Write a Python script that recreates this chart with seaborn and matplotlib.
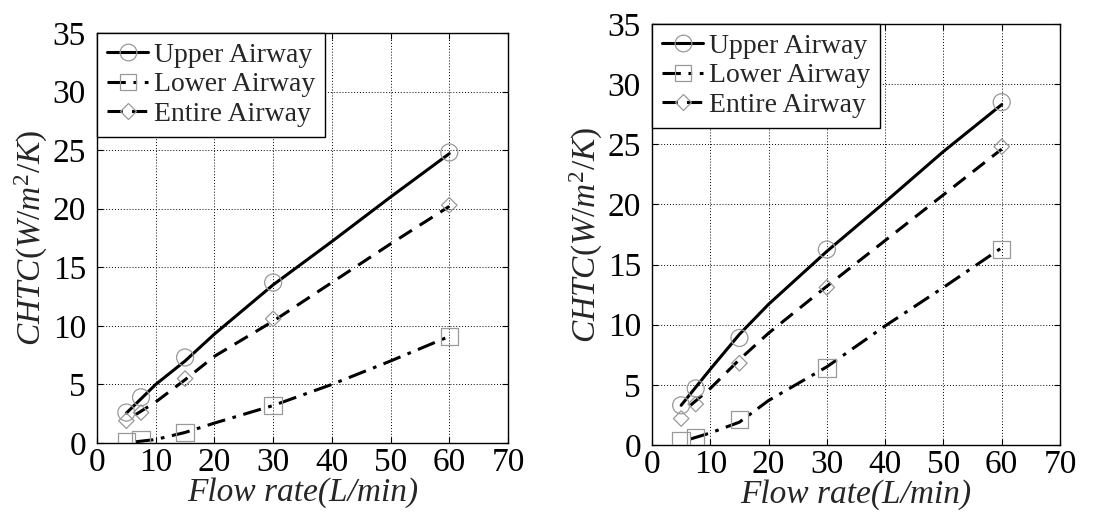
import numpy as np
import pandas as pd
import matplotlib
matplotlib.use("Agg")
import matplotlib.pyplot as plt
from matplotlib.lines import Line2D
import seaborn as sns

# ---------------- data ----------------
flow = [5, 7.5, 15, 30, 60]

# Left panel: measured points
left_upper_pts = [2.6, 3.9, 7.3, 13.7, 24.8]
left_lower_pts = [0.15, 0.3, 0.9, 3.2, 9.1]
left_entire_pts = [1.9, 2.6, 5.5, 10.6, 20.3]

# Left panel: fitted curves
left_upper_fx = [5, 10, 15, 20, 30, 40, 50, 60]
left_upper_fy = [2.55, 5.0, 7.0, 9.3, 13.5, 17.2, 21.0, 24.7]
left_entire_fx = [6.5, 10, 15, 20, 30, 40, 50, 60]
left_entire_fy = [2.4, 3.5, 5.4, 7.4, 10.4, 13.7, 17.0, 20.2]
left_lower_fx = [6.5, 10, 15, 20, 30, 40, 50, 60]
left_lower_fy = [0.1, 0.3, 0.9, 1.7, 3.2, 5.0, 7.0, 9.1]

# Right panel: measured points
right_upper_pts = [3.3, 4.7, 8.9, 16.25, 28.5]
right_lower_pts = [0.4, 0.65, 2.1, 6.4, 16.25]
right_entire_pts = [2.2, 3.4, 6.8, 13.1, 24.8]

# Right panel: fitted curves
right_upper_fx = [5, 10, 15, 20, 30, 40, 50, 60]
right_upper_fy = [3.3, 6.3, 9.2, 11.7, 16.1, 20.2, 24.4, 28.3]
right_entire_fx = [6.6, 10, 15, 20, 30, 40, 50, 60]
right_entire_fy = [3.3, 4.7, 7.1, 9.3, 13.2, 17.0, 20.8, 24.6]
right_lower_fx = [6.6, 10, 15, 20, 30, 40, 50, 60]
right_lower_fy = [0.5, 1.0, 1.9, 3.7, 6.5, 9.9, 13.1, 16.4]

labels = ["Upper Airway", "Lower Airway", "Entire Airway"]
x_ticks = [0, 10, 20, 30, 40, 50, 60, 70]
y_ticks = [0, 5, 10, 15, 20, 25, 30, 35]

# ---------------- style ----------------
sns.set_style("white")
plt.rcParams["font.family"] = ["Liberation Serif", "DejaVu Serif"]
plt.rcParams["mathtext.fontset"] = "custom"
plt.rcParams["mathtext.rm"] = "Liberation Serif"
plt.rcParams["mathtext.it"] = "Liberation Serif:italic"

LW = 2.2
DASHED = (0, (5, 3))
DASHDOT = (0, (6, 2.5, 1.2, 2.5))
MK = "#999999"

fig = plt.figure(figsize=(10.94, 5.12), dpi=100)
ax_l = fig.add_axes([97 / 1094, 69 / 512, 411 / 1094, 410 / 512])
ax_r = fig.add_axes([652 / 1094, 67 / 512, 408 / 1094, 421 / 512])


def draw(ax, up, lo, en, fits):
    (ux, uy), (ex, ey), (lx, ly) = fits
    sns.lineplot(x=ux, y=uy, ax=ax, color="black", linewidth=LW, linestyle="-")
    sns.lineplot(x=ex, y=ey, ax=ax, color="black", linewidth=LW, linestyle=DASHED)
    sns.lineplot(x=lx, y=ly, ax=ax, color="black", linewidth=LW, linestyle=DASHDOT)
    sns.scatterplot(x=flow, y=up, ax=ax, marker="o", s=150, facecolor="none",
                    edgecolor=MK, linewidth=0.9, zorder=3)
    sns.scatterplot(x=flow, y=lo, ax=ax, marker="s", s=155, facecolor="none",
                    edgecolor=MK, linewidth=0.9, zorder=3)
    sns.scatterplot(x=flow, y=en, ax=ax, marker="D", s=62, facecolor="none",
                    edgecolor=MK, linewidth=0.9, zorder=3)

    ax.set_xlim(0, 70)
    ax.set_ylim(0, 35)
    ax.set_xticks(x_ticks)
    ax.set_yticks(y_ticks)
    ax.grid(True, color="black", linestyle=(0, (1, 2)), linewidth=0.7)
    ax.set_axisbelow(True)
    for sp in ax.spines.values():
        sp.set_color("black")
        sp.set_linewidth(1.0)
        sp.set_visible(True)
    ax.tick_params(axis="both", which="both", direction="in", length=4,
                   labelsize=24, colors="black", top=True, right=True,
                   left=True, bottom=True)
    ax.tick_params(axis="y", pad=8)
    ax.tick_params(axis="x", pad=3)
    ax.set_xlabel("Flow rate(L/min)", fontsize=24, style="italic", labelpad=0)
    ax.set_ylabel(r"$CHTC(W/m^2/K)$", fontsize=24)
    ax.yaxis.set_label_coords(-0.115, 0.5)

    handles = [
        Line2D([], [], color="black", lw=LW, ls="-", marker="o", ms=12,
               mfc="none", mec=MK, mew=0.9),
        Line2D([], [], color="black", lw=LW, ls=DASHDOT, marker="s", ms=12,
               mfc="none", mec=MK, mew=0.9),
        Line2D([], [], color="black", lw=LW, ls=DASHED, marker="D", ms=8,
               mfc="none", mec=MK, mew=0.9),
    ]
    leg = ax.legend(handles, labels, loc="upper left", fontsize=20,
                    frameon=True, fancybox=False, framealpha=1,
                    edgecolor="black", borderaxespad=0, labelspacing=0.14,
                    handlelength=1.5, handletextpad=0.2, borderpad=0.35)
    leg.get_frame().set_linewidth(1.0)


draw(ax_l, left_upper_pts, left_lower_pts, left_entire_pts,
     [(left_upper_fx, left_upper_fy), (left_entire_fx, left_entire_fy),
      (left_lower_fx, left_lower_fy)])
draw(ax_r, right_upper_pts, right_lower_pts, right_entire_pts,
     [(right_upper_fx, right_upper_fy), (right_entire_fx, right_entire_fy),
      (right_lower_fx, right_lower_fy)])

fig.savefig("out.png", dpi=100)
